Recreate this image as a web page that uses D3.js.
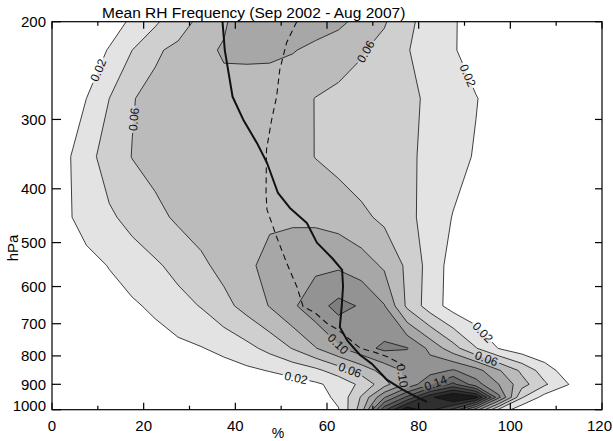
<!DOCTYPE html>
<html>
<head>
<meta charset="utf-8">
<script src="https://cdn.jsdelivr.net/npm/d3@7/dist/d3.min.js"></script>
<style>
  body { margin: 0; background: #fff; }
  svg { display: block; font-family: "Liberation Sans", Arial, sans-serif; }
</style>
</head>
<body>
<div id="chart"></div>
<script>
// RH bin centres (%) and pressure rows (hPa) of the frequency grid
const rhBins = [2.5, 7.5, 12.5, 17.5, 22.5, 27.5, 32.5, 37.5, 42.5, 47.5, 52.5, 57.5,
                62.5, 67.5, 72.5, 77.5, 82.5, 87.5, 92.5, 97.5, 102.5, 107.5, 112.5, 117.5];
const pressureLevels = [175, 225, 275, 350, 450, 550, 650, 775, 850, 900, 950, 1000];

// frequency of each RH bin, one row per pressure level
const freq175  = [0, 0.002, 0.006, 0.009, 0.016, 0.035, 0.053, 0.072, 0.088, 0.096, 0.099, 0.099, 0.096, 0.088, 0.071, 0.054, 0.032, 0.022, 0.012, 0.005, 0, 0, 0, 0];
const freq225  = [0.005, 0.012, 0.021, 0.040, 0.057, 0.065, 0.075, 0.082, 0.083, 0.083, 0.081, 0.076, 0.071, 0.062, 0.053, 0.041, 0.032, 0.022, 0.010, 0.003, 0, 0, 0, 0];
const freq275  = [0.010, 0.020, 0.040, 0.059, 0.066, 0.070, 0.073, 0.074, 0.072, 0.071, 0.067, 0.0595, 0.054, 0.050, 0.047, 0.044, 0.037, 0.028, 0.021, 0.010, 0.003, 0, 0, 0];
const freq350  = [0.014, 0.033, 0.049, 0.0605, 0.066, 0.069, 0.071, 0.072, 0.073, 0.072, 0.068, 0.0595, 0.054, 0.050, 0.047, 0.043, 0.036, 0.028, 0.018, 0.008, 0.002, 0, 0, 0];
const freq450  = [0.014, 0.030, 0.037, 0.046, 0.055, 0.063, 0.068, 0.071, 0.073, 0.077, 0.077, 0.076, 0.072, 0.064, 0.056, 0.044, 0.034, 0.019, 0.009, 0.003, 0, 0, 0, 0];
const freq550  = [0.003, 0.012, 0.021, 0.030, 0.037, 0.046, 0.056, 0.066, 0.076, 0.086, 0.092, 0.096, 0.097, 0.090, 0.077, 0.056, 0.032, 0.012, 0.004, 0.001, 0, 0, 0, 0];
const freq650  = [0.001, 0.004, 0.010, 0.017, 0.024, 0.033, 0.041, 0.054, 0.067, 0.081, 0.097, 0.112, 0.126, 0.118, 0.101, 0.056, 0.030, 0.012, 0.004, 0.001, 0, 0, 0, 0];
const freq775  = [0, 0.001, 0.003, 0.006, 0.010, 0.015, 0.019, 0.025, 0.034, 0.046, 0.061, 0.079, 0.097, 0.113, 0.124, 0.121, 0.095, 0.068, 0.041, 0.019, 0.008, 0.003, 0, 0];
const freq850  = [0, 0, 0.001, 0.002, 0.004, 0.006, 0.009, 0.012, 0.016, 0.021, 0.027, 0.035, 0.050, 0.068, 0.088, 0.104, 0.112, 0.122, 0.108, 0.082, 0.056, 0.030, 0.010, 0];
const freq900  = [0, 0, 0, 0, 0.001, 0.002, 0.003, 0.004, 0.006, 0.008, 0.012, 0.017, 0.026, 0.045, 0.072, 0.105, 0.138, 0.165, 0.128, 0.100, 0.068, 0.043, 0.021, 0.002];
const freq950  = [0, 0, 0, 0, 0, 0.001, 0.002, 0.003, 0.004, 0.006, 0.008, 0.012, 0.024, 0.062, 0.118, 0.165, 0.215, 0.245, 0.228, 0.125, 0.042, 0.012, 0.002, 0];
const freq1000 = [0, 0, 0, 0, 0, 0, 0.001, 0.002, 0.003, 0.005, 0.008, 0.012, 0.019, 0.070, 0.175, 0.235, 0.205, 0.175, 0.110, 0.035, 0.006, 0, 0, 0];

const contourLevels = [0.02, 0.04, 0.06, 0.08, 0.10, 0.12, 0.14, 0.16, 0.18, 0.20, 0.22];

// mean (solid) and dashed profiles
const meanP   = [200, 225, 273, 300, 333, 359, 407, 433, 461, 500, 533, 560, 600, 653, 710, 750, 797, 827, 884, 921, 949, 968];
const meanRH  = [37.2, 37.7, 39.4, 41.7, 44.9, 46.9, 49.3, 51.9, 55.6, 57.8, 61.1, 63.3, 63.5, 63.2, 62.8, 64.4, 67.2, 69.8, 73.1, 76.6, 79.6, 81.8];
const dashP   = [200, 218, 244, 273, 301, 340, 407, 436, 488, 544, 600, 652, 669, 698, 718, 774, 790, 804, 831];
const dashRH  = [53.4, 51.2, 49.7, 49.0, 47.9, 46.8, 46.7, 46.9, 49.0, 51.2, 53.4, 54.8, 57.4, 59.9, 62.4, 67.2, 70.8, 73.3, 76.6];

const xTicks = [0, 20, 40, 60, 80, 100, 120];
const xMinorTicks = [10, 30, 50, 70, 90, 110];
const yTicks = [200, 300, 400, 500, 600, 700, 800, 900, 1000];

// where the contour labels sit (snapped to the nearest line of that level)
const labelSpots = [
  {level: 0.02, rh: 9.8, p: 244}, {level: 0.06, rh: 18.1, p: 300},
  {level: 0.06, rh: 67.9, p: 225}, {level: 0.02, rh: 91.2, p: 249},
  {level: 0.02, rh: 53.4, p: 865}, {level: 0.06, rh: 65, p: 848},
  {level: 0.10, rh: 62.1, p: 766}, {level: 0.10, rh: 79.9, p: 860},
  {level: 0.14, rh: 83.6, p: 890}, {level: 0.06, rh: 94.8, p: 808},
  {level: 0.02, rh: 93.4, p: 733}
];

const W = 613, H = 441;
const PLOT = {left: 52, right: 602, top: 21.7, bottom: 409.7};

const x = d3.scaleLinear().domain([0, 120]).range([PLOT.left, PLOT.right]);
const y = d3.scaleLog().domain([200, 1000]).range([PLOT.top, PLOT.bottom]);

const svg = d3.select('#chart').append('svg')
  .attr('width', W).attr('height', H);

const defs = svg.append('defs');
defs.append('clipPath').attr('id', 'plotClip')
  .append('rect')
    .attr('x', PLOT.left).attr('y', PLOT.top)
    .attr('width', PLOT.right - PLOT.left).attr('height', PLOT.bottom - PLOT.top);

// contour grid -> data coordinates
const frequency = [freq175, freq225, freq275, freq350, freq450, freq550, freq650,
                   freq775, freq850, freq900, freq950, freq1000];
const nx = rhBins.length, ny = pressureLevels.length;
const values = frequency.flat();

function gridRH(gx) {
  const t = gx - 0.5;
  const i = Math.max(0, Math.min(nx - 2, Math.floor(t)));
  return rhBins[i] + (t - i) * (rhBins[i + 1] - rhBins[i]);
}
function gridP(gy) {
  const t = gy - 0.5;
  const i = Math.max(0, Math.min(ny - 2, Math.floor(t)));
  return pressureLevels[i] + (t - i) * (pressureLevels[i + 1] - pressureLevels[i]);
}
const toPx = (pt) => [x(gridRH(pt[0])), y(gridP(pt[1]))];

const contours = d3.contours().size([nx, ny]).thresholds(contourLevels)(values);

const proj = d3.geoTransform({
  point(px, py) { const q = toPx([px, py]); this.stream.point(q[0], q[1]); }
});
const path = d3.geoPath(proj);

const shade = i => { const g = Math.round(227 - 20 * i); return `rgb(${g},${g},${g})`; };

const plot = svg.append('g').attr('clip-path', 'url(#plotClip)');

plot.append('g').selectAll('path')
  .data(contours)
  .enter().append('path')
    .attr('d', path)
    .attr('fill', (d, i) => shade(i))
    .attr('stroke', 'none');

// labels and line knock-outs
const mask = defs.append('mask').attr('id', 'lineMask');
mask.append('rect').attr('width', W).attr('height', H).attr('fill', '#fff');

const lines = plot.append('g').attr('mask', 'url(#lineMask)');
lines.selectAll('path')
  .data(contours)
  .enter().append('path')
    .attr('d', path)
    .attr('fill', 'none')
    .attr('stroke', '#111')
    .attr('stroke-width', 0.8)
    .attr('stroke-linejoin', 'round');

const labelLayer = svg.append('g');
labelSpots.forEach(spot => {
  const c = contours.find(d => Math.abs(d.value - spot.level) < 1e-9);
  if (!c) return;
  const tx = x(spot.rh), ty = y(spot.p);
  let best = null;
  c.coordinates.forEach(poly => poly.forEach(ring => {
    const pts = ring.map(toPx);
    for (let k = 0; k < pts.length - 1; k++) {
      const [ax, ay] = pts[k], [bx, by] = pts[k + 1];
      const dx = bx - ax, dy = by - ay, len2 = dx * dx + dy * dy;
      if (len2 === 0) continue;
      const t = Math.max(0, Math.min(1, ((tx - ax) * dx + (ty - ay) * dy) / len2));
      const px = ax + t * dx, py = ay + t * dy;
      const dist = (px - tx) ** 2 + (py - ty) ** 2;
      if (!best || dist < best.dist) best = {dist, px, py, dx, dy};
    }
  }));
  if (!best) return;
  let ang = Math.atan2(best.dy, best.dx) * 180 / Math.PI;
  if (ang > 90) ang -= 180;
  if (ang < -90) ang += 180;
  const txt = labelLayer.append('text')
    .attr('transform', `translate(${best.px},${best.py}) rotate(${ang})`)
    .attr('text-anchor', 'middle')
    .attr('dy', '0.35em')
    .attr('font-size', 12)
    .attr('fill', '#111')
    .text(spot.level.toFixed(2));
  const w = txt.node().getComputedTextLength() + 4;
  mask.append('rect')
    .attr('x', -w / 2).attr('y', -5.5).attr('width', w).attr('height', 11)
    .attr('transform', `translate(${best.px},${best.py}) rotate(${ang})`)
    .attr('fill', '#000');
});

// profiles
const profile = d3.line().x(d => x(d[0])).y(d => y(d[1]));
plot.append('path')
  .attr('d', profile(dashRH.map((r, i) => [r, dashP[i]])))
  .attr('fill', 'none').attr('stroke', '#111')
  .attr('stroke-width', 1.1).attr('stroke-dasharray', '6,4');
plot.append('path')
  .attr('d', profile(meanRH.map((r, i) => [r, meanP[i]])))
  .attr('fill', 'none').attr('stroke', '#111')
  .attr('stroke-width', 2).attr('stroke-linejoin', 'round');

// frame and ticks
const axes = svg.append('g').attr('stroke', '#000').attr('stroke-width', 1.2);
axes.append('rect')
  .attr('x', PLOT.left).attr('y', PLOT.top)
  .attr('width', PLOT.right - PLOT.left).attr('height', PLOT.bottom - PLOT.top)
  .attr('fill', 'none');

const xTickLines = [...xTicks.map(v => ({v, len: 7})), ...xMinorTicks.map(v => ({v, len: 4}))];
xTickLines.forEach(t => {
  axes.append('line').attr('x1', x(t.v)).attr('x2', x(t.v))
    .attr('y1', PLOT.bottom).attr('y2', PLOT.bottom - t.len);
  axes.append('line').attr('x1', x(t.v)).attr('x2', x(t.v))
    .attr('y1', PLOT.top).attr('y2', PLOT.top + t.len);
});
yTicks.forEach(v => {
  axes.append('line').attr('x1', PLOT.left).attr('x2', PLOT.left + 9)
    .attr('y1', y(v)).attr('y2', y(v));
  axes.append('line').attr('x1', PLOT.right).attr('x2', PLOT.right - 7)
    .attr('y1', y(v)).attr('y2', y(v));
});

const txt = svg.append('g').attr('fill', '#000').attr('font-size', 15);
txt.selectAll('.xl').data(xTicks).enter().append('text')
  .attr('x', d => d === 120 ? 612 : x(d)).attr('y', 431)
  .attr('text-anchor', d => d === 120 ? 'end' : 'middle').text(d => d);
txt.selectAll('.yl').data(yTicks).enter().append('text')
  .attr('x', 46).attr('y', d => y(d) - (d === 1000 ? 4 : 0))
  .attr('dy', '0.36em')
  .attr('text-anchor', 'end').text(d => d);

txt.append('text').attr('x', 278).attr('y', 438)
  .attr('text-anchor', 'middle').attr('font-size', 14).text('%');
txt.append('text')
  .attr('transform', 'translate(18,248) rotate(-90)')
  .attr('text-anchor', 'middle').text('hPa');
txt.append('text').attr('x', 102).attr('y', 18)
  .attr('font-size', 15.5).text('Mean RH Frequency (Sep 2002 - Aug 2007)');
</script>
</body>
</html>
